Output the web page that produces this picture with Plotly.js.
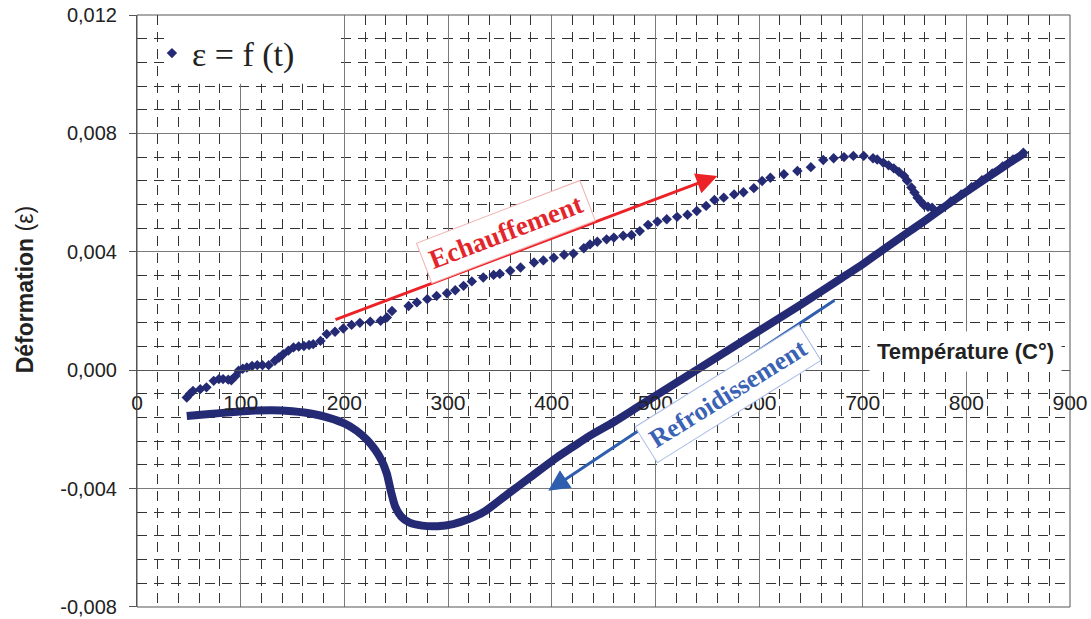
<!DOCTYPE html>
<html>
<head>
<meta charset="utf-8">
<script src="https://cdn.plot.ly/plotly-3.0.1.min.js"></script>
<style>html,body{margin:0;padding:0;background:#fff;}#chart{width:1091px;height:619px;}</style>
</head>
<body>
<div id="chart"></div>
<script>
// Heating (échauffement) series: temperature (°C) and strain
const heatT = [48,51,54,61,67,74,79,83,88,91,95,98,102,106,111,116,121,127,133,137,141,146,151,156,161,166,170,177,183,191,199,207,215,225,235,241,246,
  262,270,280,289,299,307,315,323,334,344,350,360,370,383,392,402,412,421,431,437,444,453,460,469,477,485,493,502,511,521,531,540,549,557,566,576,585,595,603,611,624,637,650,662,672,682,691,701,710,714,720,725,730,735,740,743,747,750,753,756,759,763,767,775,785,795,805,815,825,835,845,855];
const heatE = [-0.00092,-0.00080,-0.00070,-0.00064,-0.00058,-0.00036,-0.00030,-0.00030,-0.00032,-0.00034,-0.00020,-0.00002,0.00005,0.00009,0.00014,0.00017,0.00017,0.00017,0.00032,0.00043,0.00054,0.00066,0.00077,0.00080,0.00082,0.00085,0.00088,0.00099,0.00122,0.00130,0.00141,0.00153,0.00160,0.00164,0.00167,0.00178,0.00200,
  0.00217,0.00229,0.00240,0.00251,0.00260,0.00270,0.00285,0.00300,0.00313,0.00322,0.00326,0.00336,0.00347,0.00364,0.00371,0.00380,0.00390,0.00394,0.00412,0.00425,0.00434,0.00442,0.00448,0.00454,0.00457,0.00470,0.00491,0.00502,0.00510,0.00518,0.00525,0.00538,0.00555,0.00575,0.00583,0.00594,0.00601,0.00615,0.00639,0.00650,0.00662,0.00673,0.00686,0.00710,0.00716,0.00720,0.00724,0.00724,0.00716,0.00712,0.00701,0.00692,0.00682,0.00670,0.00656,0.00640,0.00617,0.00600,0.00583,0.00570,0.00558,0.00552,0.00549,0.00545,0.00570,0.00594,0.00618,0.00642,0.00665,0.00688,0.00712,0.00735];

// Cooling (refroidissement) series
const coolT = [857,840,820,800,780,760,740,720,700,680,660,640,620,600,580,560,540,520,500,480,460,437,420,405,380,357,335,320,305,290,275,263,255,249,245,241,236,230,222,212,200,186,170,150,130,110,90,70,48];
const coolE = [0.00735,0.00697,0.00650,0.00603,0.00555,0.00505,0.00457,0.00408,0.00358,0.00312,0.00266,0.00221,0.00177,0.00133,0.00089,0.00045,0.00001,-0.00043,-0.00087,-0.00131,-0.00175,-0.00221,-0.00260,-0.00295,-0.00360,-0.00420,-0.00478,-0.00503,-0.00520,-0.00527,-0.00525,-0.00515,-0.00495,-0.00460,-0.00410,-0.00350,-0.00305,-0.00270,-0.00236,-0.00205,-0.00180,-0.00162,-0.00148,-0.00139,-0.00135,-0.00137,-0.00142,-0.00148,-0.00155];

// Tick labels
const yTickVals = [-0.008, -0.004, 0, 0.004, 0.008, 0.012];
const yTickText = ['-0,008', '-0,004', '0,000', '0,004', '0,008', '0,012'];
const xTickVals = [0, 100, 200, 300, 400, 500, 600, 700, 800, 900];
const xTickText = ['0', '100', '200', '300', '400', '500', '600', '700', '800', '900'];

// Labels
const legendLabel = 'ε = f (t)';
const yTitle = '<b>Déformation</b> (ε)';
const xTitle = '<b>Température (C°)</b>';
const heatLabel = '<b>Echauffement</b>';
const coolLabel = '<b>Refroidissement</b>';

const navy = '#252a74';
const dash = '10px,7px';

const traces = [
  {x: coolT, y: coolE, mode: 'lines', type: 'scatter', showlegend: false,
   line: {color: navy, width: 8, shape: 'spline', smoothing: 0.6}, hoverinfo: 'skip'},
  {x: heatT, y: heatE, mode: 'markers', type: 'scatter', name: legendLabel,
   marker: {symbol: 'diamond', size: 8, color: navy}}
];

const layout = {
  width: 1091, height: 619,
  margin: {l: 137, r: 21, t: 15, b: 12},
  paper_bgcolor: '#ffffff', plot_bgcolor: '#ffffff',
  font: {family: 'Liberation Sans, Arial, sans-serif', color: '#222', size: 21},
  showlegend: true,
  legend: {x: 0.016, y: 0.935, xanchor: 'left', yanchor: 'middle', bgcolor: 'rgba(0,0,0,0)',
           font: {family: 'Liberation Serif, Times New Roman, serif', size: 34, color: '#222'}},
  xaxis: {range: [0, 900], tickmode: 'array', tickvals: xTickVals, ticktext: xTickText,
          anchor: 'free', position: 0.4,
          showgrid: true, gridcolor: '#7a7a7a', gridwidth: 1,
          minor: {tickmode: 'linear', tick0: 0, dtick: 20, showgrid: true, gridcolor: '#333', griddash: dash, gridwidth: 1},
          showline: true, linecolor: '#555', linewidth: 1, zeroline: false,
          ticks: '', ticklabelstandoff: 14, ticklabeloverflow: 'allow',
          tickfont: {size: 21, color: '#222'}, fixedrange: true},
  yaxis: {range: [-0.0080002, 0.0120002], tickmode: 'array', tickvals: yTickVals, ticktext: yTickText,
          showgrid: true, gridcolor: '#7a7a7a', gridwidth: 1,
          minor: {tickmode: 'linear', tick0: 0, dtick: 0.0008, showgrid: true, gridcolor: '#333', griddash: dash, gridwidth: 1},
          showline: true, linecolor: '#555', linewidth: 1, zeroline: false,
          ticks: 'outside', ticklen: 7, tickcolor: '#555', ticklabelstandoff: 8, ticklabeloverflow: 'allow',
          tickfont: {size: 20, color: '#222'}, fixedrange: true},
  shapes: [
    {type: 'rect', xref: 'paper', yref: 'paper', x0: 0.03, x1: 0.218, y0: 0.884, y1: 1,
     fillcolor: '#ffffff', line: {width: 0}, layer: 'above'},
    {type: 'rect', xref: 'paper', yref: 'paper', x0: 0, x1: 1, y0: 0, y1: 1,
     line: {color: '#555', width: 1}, fillcolor: 'rgba(0,0,0,0)', layer: 'above'}
  ],
  annotations: [
    {xref: 'paper', yref: 'paper', x: -0.12, y: 0.535, text: yTitle, textangle: -90, showarrow: false,
     font: {size: 23, color: '#222', family: 'Liberation Sans, Arial, sans-serif'}, xanchor: 'center', yanchor: 'middle'},
    {xref: 'paper', yref: 'paper', x: 0.8875, y: 0.4317, text: xTitle, showarrow: false,
     bgcolor: '#ffffff', borderpad: 7, font: {size: 22, color: '#222'}, xanchor: 'center', yanchor: 'middle'},
    {xref: 'x', yref: 'y', x: 559.8, y: 0.00656, axref: 'x', ayref: 'y', ax: 190.0, ay: 0.00169,
     text: '', showarrow: true, arrowhead: 2, arrowsize: 1.4, arrowwidth: 3, arrowcolor: '#ec2227'},
    {xref: 'x', yref: 'y', x: 396.7, y: -0.00407, axref: 'x', ayref: 'y', ax: 674.3, ay: 0.00240,
     text: '', showarrow: true, arrowhead: 2, arrowsize: 1.4, arrowwidth: 3, arrowcolor: '#2f5eae'},
    {xref: 'x', yref: 'y', x: 355.7, y: 0.00466, text: heatLabel, textangle: -21, showarrow: false,
     bgcolor: '#ffffff', bordercolor: '#f3b0b0', borderwidth: 1, borderpad: 6,
     font: {family: 'Liberation Serif, Times New Roman, serif', size: 27, color: '#e3262b'}},
    {xref: 'x', yref: 'y', x: 570.4, y: -0.00079, text: coolLabel, textangle: -32, showarrow: false,
     bgcolor: '#ffffff', bordercolor: '#a9bce6', borderwidth: 1, borderpad: 6,
     font: {family: 'Liberation Serif, Times New Roman, serif', size: 26, color: '#3a62b5'}}
  ]
};

Plotly.newPlot('chart', traces, layout, {staticPlot: true, displayModeBar: false});
</script>
</body>
</html>
